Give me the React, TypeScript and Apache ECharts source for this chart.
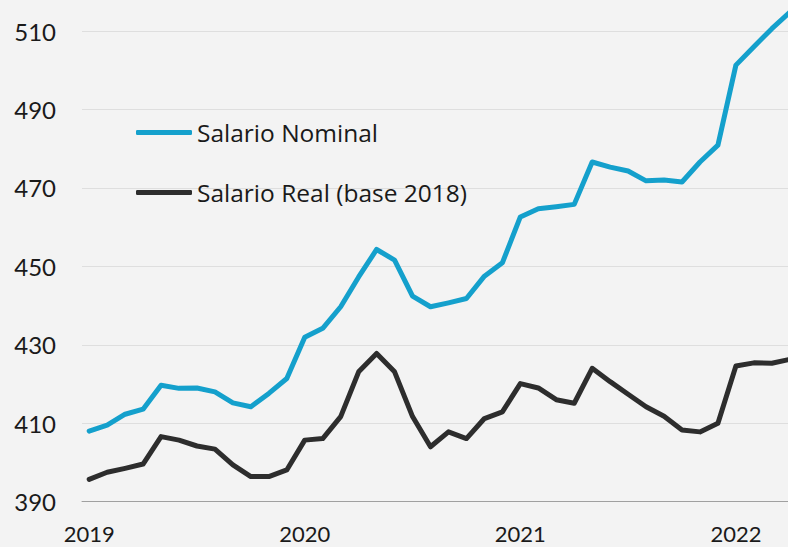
import React, { useEffect, useRef } from "react";
import * as echarts from "echarts";

const years = ["2019", "2020", "2021", "2022"];
const yearTickIndex = [0, 12, 24, 36];

const nominal = [
  408.0, 409.5, 412.3, 413.6, 419.7, 418.9, 419.0, 418.0, 415.2, 414.2, 417.6, 421.4,
  431.9, 434.2, 439.7, 447.3, 454.3, 451.6, 442.4, 439.7, 440.7, 441.8, 447.5, 450.9,
  462.6, 464.7, 465.2, 465.8, 476.6, 475.3, 474.3, 471.8, 472.0, 471.5, 476.6, 480.9,
  501.3, 506.0, 510.6, 514.8,
];

const real = [
  395.7, 397.5, 398.5, 399.6, 406.6, 405.7, 404.2, 403.4, 399.4, 396.4, 396.4, 398.1,
  405.7, 406.1, 411.7, 423.1, 427.8, 423.1, 411.7, 404.0, 407.8, 406.1, 411.2, 412.9,
  420.1, 419.0, 416.0, 415.1, 424.0, 420.6, 417.4, 414.2, 411.8, 408.3, 407.8, 410.0,
  424.6, 425.4, 425.3, 426.3,
];

const seriesNames = ["Salario Nominal", "Salario Real (base 2018)"];
const AXIS_FONT = "Lato, 'Open Sans', sans-serif";
const LEGEND_FONT = "'Open Sans', Lato, sans-serif";

export default function App() {
  const ref = useRef<HTMLDivElement>(null);
  useEffect(() => {
    if (!ref.current) return;
    const chart = echarts.init(ref.current, undefined, { renderer: "svg" });
    const toPairs = (arr: number[]) => arr.map((v, i) => [i, v]);
    chart.setOption({
      animation: false,
      backgroundColor: "#f3f3f3",
      textStyle: { fontFamily: AXIS_FONT },
      grid: { left: 82, right: 0, top: 31, bottom: 45.3, containLabel: false },
      legend: {
        orient: "vertical",
        left: 131,
        top: 115,
        itemWidth: 56,
        itemHeight: 5,
        itemGap: 35,
        icon: "roundRect",
        textStyle: { fontSize: 24.5, color: "#1a1a1a", fontFamily: LEGEND_FONT },
        data: seriesNames,
      },
      xAxis: {
        type: "value",
        min: -0.4,
        max: 38.9,
        axisLine: { show: true, lineStyle: { color: "#a0a0a0", width: 1 } },
        axisTick: { show: false },
        splitLine: { show: false },
        axisLabel: {
          customValues: yearTickIndex,
          formatter: (v: number) => years[yearTickIndex.indexOf(Math.round(v))] ?? "",
          fontSize: 22,
          lineHeight: 22,
          color: "#1a1a1a",
          margin: 21,
          fontFamily: AXIS_FONT,
        },
      },
      yAxis: {
        type: "value",
        min: 390,
        max: 510,
        interval: 20,
        axisLine: { show: false },
        axisTick: { show: false },
        splitLine: { lineStyle: { color: "#dedede", width: 1 } },
        axisLabel: { fontSize: 24, color: "#1a1a1a", margin: 26, fontFamily: AXIS_FONT },
      },
      series: [
        {
          name: seriesNames[0],
          type: "line",
          data: toPairs(nominal),
          symbol: "none",
          clip: false,
          color: "#14a0cc",
          lineStyle: { width: 5, color: "#14a0cc", cap: "round", join: "round" },
        },
        {
          name: seriesNames[1],
          type: "line",
          data: toPairs(real),
          symbol: "none",
          clip: false,
          color: "#2d2d2d",
          lineStyle: { width: 5, color: "#2d2d2d", cap: "round", join: "round" },
        },
      ],
    });
    return () => chart.dispose();
  }, []);
  return (
    <div
      ref={ref}
      style={{ position: "absolute", left: 0, top: 0, width: 788, height: 547 }}
    />
  );
}
